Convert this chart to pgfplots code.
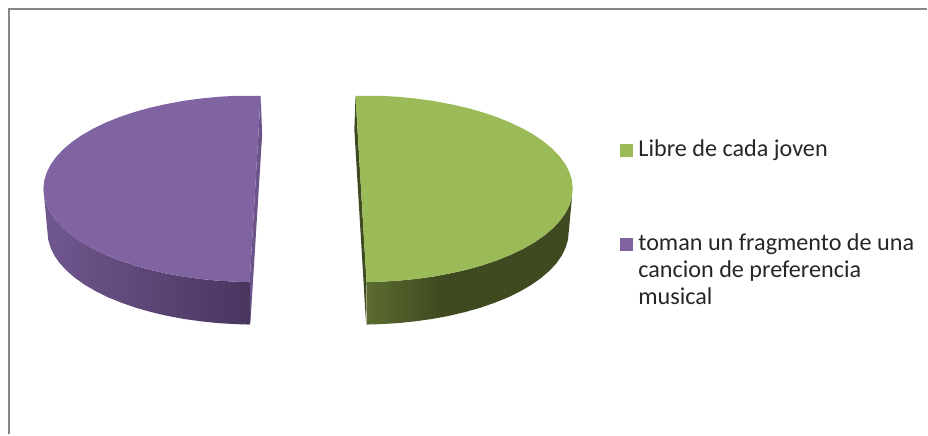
\documentclass[border=0pt]{standalone}
\usepackage{fontspec}
\setmainfont{Carlito}
\usepackage{pgfplots}
\pgfplotsset{compat=1.18}
\definecolor{pgreen}{RGB}{155,187,89}
\definecolor{ppurple}{RGB}{128,100,162}
\definecolor{frameg}{RGB}{134,134,134}
\definecolor{txt}{RGB}{38,38,38}
\definecolor{sliverg}{RGB}{64,74,32}
\definecolor{sliverp}{RGB}{108,84,138}
\pgfdeclarehorizontalshading{greenwall}{100bp}{rgb(0bp)=(0.36,0.42,0.19); rgb(25bp)=(0.36,0.42,0.19); rgb(43bp)=(0.25,0.29,0.125); rgb(100bp)=(0.25,0.29,0.125)}
\pgfdeclarehorizontalshading{purplewall}{100bp}{rgb(0bp)=(0.44,0.34,0.56); rgb(25bp)=(0.44,0.34,0.56); rgb(75bp)=(0.285,0.21,0.37); rgb(100bp)=(0.285,0.21,0.37)}
\begin{document}
\begin{tikzpicture}
\begin{axis}[
    scale only axis,
    width=928pt, height=435pt,
    xmin=0, xmax=928,
    ymin=0, ymax=435,
    y dir=reverse,
    hide axis,
    clip=false,
]
% keeps the page as large as the whole reference
\path (axis cs:0,0) rectangle (axis cs:928,435);
% frame, cut off at the right and bottom
\addplot[frameg, line width=2.4pt] coordinates {(9.2,435)(9.2,9.2)(928,9.2)};

% purple slice: cut face, wall, top
\addplot[fill=sliverp, draw=none] coordinates {(261,96)(262.5,135)(250.6,325)(250,282.4)} -- cycle;
\addplot[shading=purplewall, draw=none] coordinates {
    (43.5,189)(44.3,197.1)(46.7,205.2)(50.7,213.2)(56.3,221)(63.4,228.5)(71.9,235.75)(81.8,242.6)
    (93.1,249.1)(105.6,255.1)(119.2,260.6)(133.9,265.6)(149.5,270)(165.9,273.7)(183,276.9)
    (200.6,279.3)(218.7,281.1)(237,282.1)(250,282.4)
    (250,325)(237.4,324.6)(219.4,323.6)(201.7,321.8)(184.4,319.4)(167.6,316.3)(151.5,312.5)
    (136.2,308.2)(121.8,303.2)(108.4,297.8)(96.2,291.8)(85.1,285.3)(75.4,278.5)(67,271.3)
    (60,263.8)(54.6,256.1)(50.7,248.1)(48.3,240.1)(47.5,232)
} -- cycle;
\addplot[fill=ppurple, draw=none] coordinates {
    (261,96)(237,95.9)(218.7,96.9)(200.6,98.7)(183,101.1)(165.9,104.3)(149.5,108)(133.9,112.4)
    (119.2,117.4)(105.6,122.9)(93.1,128.9)(81.8,135.4)(71.9,142.25)(63.4,149.5)(56.3,157)
    (50.7,164.8)(46.7,172.8)(44.3,180.9)(43.5,189)(44.3,197.1)(46.7,205.2)(50.7,213.2)(56.3,221)
    (63.4,228.5)(71.9,235.75)(81.8,242.6)(93.1,249.1)(105.6,255.1)(119.2,260.6)(133.9,265.6)
    (149.5,270)(165.9,273.7)(183,276.9)(200.6,279.3)(218.7,281.1)(237,282.1)(250,282.4)
} -- cycle;

% green slice: cut face, wall, top
\addplot[fill=sliverg, draw=none] coordinates {(356,96)(354.8,130)(366.6,325)(367,282.4)} -- cycle;
\addplot[shading=greenwall, draw=none] coordinates {
    (573.5,189)(572.7,197.1)(570.3,205.2)(566.3,213.2)(560.7,221)(553.6,228.5)(545.1,235.75)
    (535.2,242.6)(523.9,249.1)(511.4,255.1)(497.8,260.6)(483.1,265.6)(467.5,270)(451.1,273.7)
    (434,276.9)(416.4,279.3)(398.3,281.1)(380,282.1)(367,282.4)
    (367,325)(379.6,324.6)(397.6,323.6)(415.3,321.8)(432.6,319.4)(449.4,316.3)(465.5,312.5)
    (480.8,308.2)(495.2,303.2)(508.6,297.8)(520.8,291.8)(531.9,285.3)(541.6,278.5)(550,271.3)
    (557,263.8)(562.4,256.1)(566.3,248.1)(568.7,240.1)(569.5,232)
} -- cycle;
\addplot[fill=pgreen, draw=none] coordinates {
    (356,96)(380,95.9)(398.3,96.9)(416.4,98.7)(434,101.1)(451.1,104.3)(467.5,108)(483.1,112.4)
    (497.8,117.4)(511.4,122.9)(523.9,128.9)(535.2,135.4)(545.1,142.25)(553.6,149.5)(560.7,157)
    (566.3,164.8)(570.3,172.8)(572.7,180.9)(573.5,189)(572.7,197.1)(570.3,205.2)(566.3,213.2)
    (560.7,221)(553.6,228.5)(545.1,235.75)(535.2,242.6)(523.9,249.1)(511.4,255.1)(497.8,260.6)
    (483.1,265.6)(467.5,270)(451.1,273.7)(434,276.9)(416.4,279.3)(398.3,281.1)(380,282.1)(367,282.4)
} -- cycle;

% legend
\addplot[only marks, color=pgreen, mark=square*, mark size=6pt, line width=0.5pt] coordinates {(626.7,150)};
\addplot[only marks, color=ppurple, mark=square*, mark size=6pt, line width=0.5pt] coordinates {(626.7,244.5)};
\tikzset{lg/.style={anchor=base west, inner sep=0pt, text=txt, font=\fontsize{24.2}{28}\selectfont}}
\node[lg] at (axis cs:639,157) {Libre de cada joven};
\node[lg] at (axis cs:639,251) {toman un fragmento de una};
\node[lg] at (axis cs:639,278) {cancion de preferencia};
\node[lg] at (axis cs:639,305) {musical};
\end{axis}
\end{tikzpicture}
\end{document}
